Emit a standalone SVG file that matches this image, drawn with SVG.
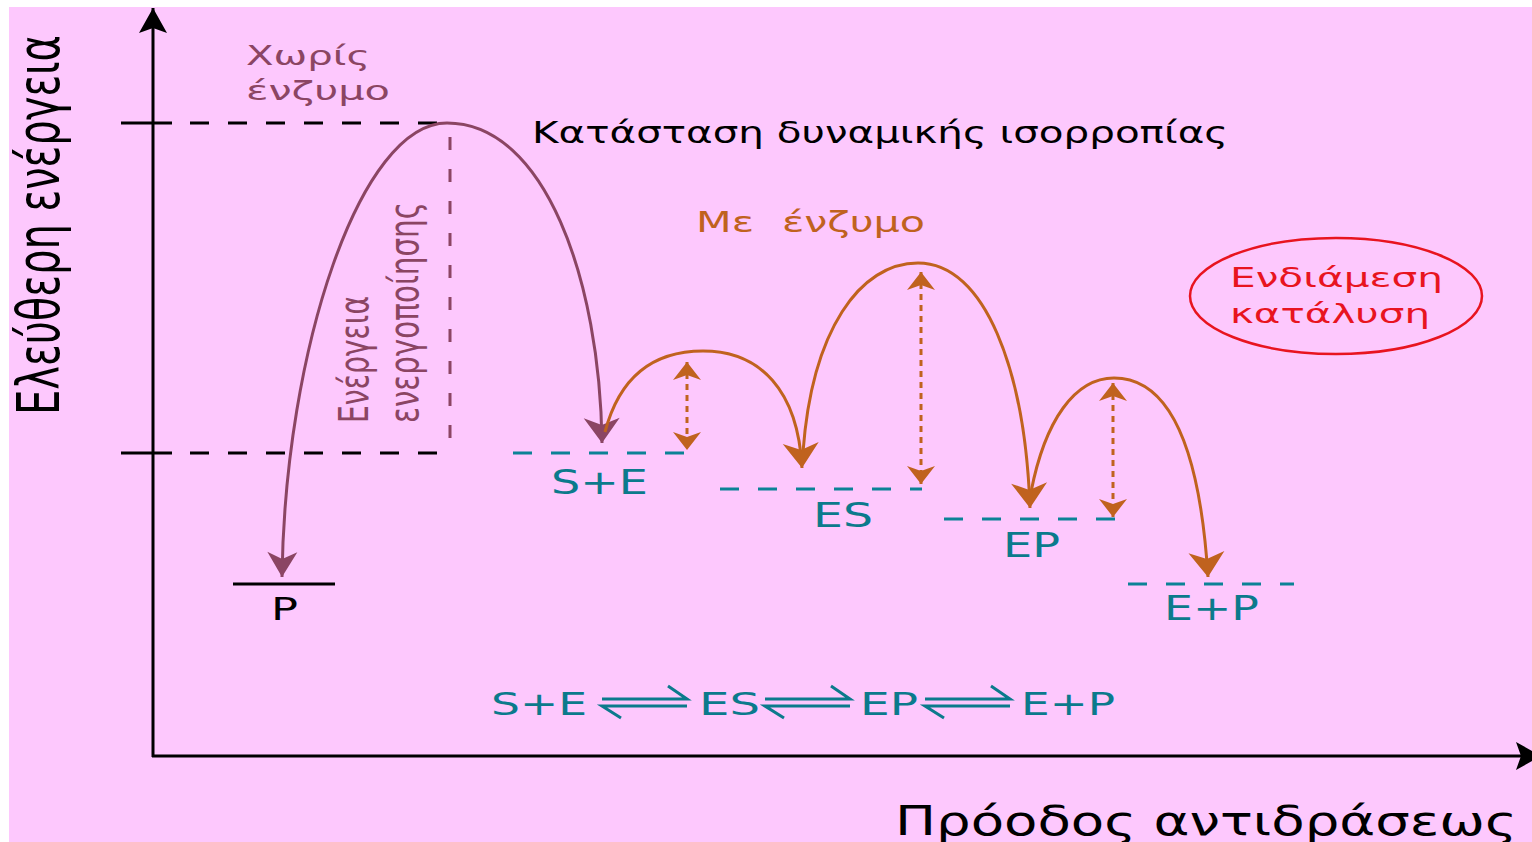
<svg xmlns="http://www.w3.org/2000/svg" width="1532" height="842" viewBox="0 0 1532 842">
<style>
text{font-family:"DejaVu Sans","Noto Sans",sans-serif}
.ax{stroke:#000;stroke-width:3;fill:none}
.dk{stroke:#000;stroke-width:3;stroke-dasharray:19 19;fill:none}
.mr{stroke:#8B4563;stroke-width:3;fill:none}
.mrd{stroke:#8B4563;stroke-width:3;stroke-dasharray:13 19;fill:none}
.or{stroke:#C0621E;stroke-width:3;fill:none}
.dot{stroke:#C0621E;stroke-width:3;stroke-dasharray:6 5;fill:none}
.tl{stroke:#0B8296;stroke-width:3;stroke-dasharray:19 19;fill:none}
.hp{stroke:#0B7A8C;stroke-width:3;fill:none}
.tt{fill:#0B7A8C}
.tm{fill:#8B4563}
</style>
<defs>
<marker id="hBlk" markerUnits="userSpaceOnUse" viewBox="-30 -20 35 40" markerWidth="35" markerHeight="40" refX="0" refY="0" orient="auto" overflow="visible"><path d="M0,0 L-25,-14 L-20,0 L-25,14 Z" fill="#000"/></marker>
<marker id="hMrA" markerUnits="userSpaceOnUse" viewBox="-30 -20 35 40" markerWidth="35" markerHeight="40" refX="0" refY="0" orient="auto-start-reverse" overflow="visible"><path d="M0,0 L-25,-18 L-18,0 L-25,18 Z" fill="#8B4563"/></marker>
<marker id="hMrB" markerUnits="userSpaceOnUse" viewBox="-30 -20 35 40" markerWidth="35" markerHeight="40" refX="0" refY="0" orient="auto" overflow="visible"><path d="M0,0 L-25,-15 L-18,0 L-25,15 Z" fill="#8B4563"/></marker>
<marker id="hOr" markerUnits="userSpaceOnUse" viewBox="-30 -20 35 40" markerWidth="35" markerHeight="40" refX="0" refY="0" orient="auto" overflow="visible"><path d="M0,0 L-25,-18 L-18,0 L-25,18 Z" fill="#C0621E"/></marker>
<marker id="hOs" markerUnits="userSpaceOnUse" viewBox="-30 -20 35 40" markerWidth="35" markerHeight="40" refX="0" refY="0" orient="auto-start-reverse" overflow="visible"><path d="M0,0 L-18,-14 L-13,0 L-18,14 Z" fill="#C0621E"/></marker>
</defs>

<rect x="9" y="7" width="1523" height="835" fill="#FDC8FD"/>

<g id="axes">
<line class="ax" x1="153" y1="757" x2="153" y2="8" marker-end="url(#hBlk)"/>
<line class="ax" x1="152" y1="756" x2="1541" y2="756" marker-end="url(#hBlk)"/>
<text transform="translate(59,415) scale(1.45,1) rotate(-90)" font-size="40" textLength="380" lengthAdjust="spacingAndGlyphs" fill="#000">Ελεύθερη ενέργεια</text>
<text x="895" y="835" font-size="41" textLength="622" lengthAdjust="spacingAndGlyphs" fill="#000">Πρόοδος αντιδράσεως</text>
</g>

<g id="reference-lines">
<line class="ax" x1="121" y1="123" x2="172" y2="123"/>
<line class="dk" x1="190" y1="123" x2="440" y2="123"/>
<line class="ax" x1="121" y1="453" x2="172" y2="453"/>
<line class="dk" x1="190" y1="453" x2="440" y2="453"/>
<line class="mrd" x1="450" y1="137" x2="450" y2="453"/>
</g>

<g id="label-no-enzyme">
<text class="tm" x="246" y="65" font-size="27" textLength="124" lengthAdjust="spacingAndGlyphs">Χωρίς</text>
<text class="tm" x="246" y="100" font-size="27" textLength="144" lengthAdjust="spacingAndGlyphs">ένζυμο</text>
</g>

<g id="label-activation">
<text class="tm" transform="translate(368,423) scale(1.45,1) rotate(-90)" font-size="28" textLength="127" lengthAdjust="spacingAndGlyphs">Ενέργεια</text>
<text class="tm" transform="translate(418,423) scale(1.45,1) rotate(-90)" font-size="28.5" textLength="221" lengthAdjust="spacingAndGlyphs">ενεργοποίησης</text>
</g>

<g id="label-equilibrium">
<text x="532" y="143" font-size="30" textLength="696" lengthAdjust="spacingAndGlyphs" fill="#000">Κατάσταση δυναμικής ισορροπίας</text>
</g>

<g id="label-with-enzyme">
<text x="696" y="232" font-size="29" textLength="58" lengthAdjust="spacingAndGlyphs" fill="#C0621E">Με</text>
<text x="782" y="232" font-size="29" textLength="143" lengthAdjust="spacingAndGlyphs" fill="#C0621E">ένζυμο</text>
</g>

<g id="intermediate-catalysis">
<ellipse cx="1336" cy="296" rx="146" ry="58" fill="none" stroke="#E8141F" stroke-width="2.5"/>
<text x="1230" y="287" font-size="27" textLength="213" lengthAdjust="spacingAndGlyphs" fill="#E8141F">Ενδιάμεση</text>
<text x="1230" y="323" font-size="27" textLength="200" lengthAdjust="spacingAndGlyphs" fill="#E8141F">κατάλυση</text>
</g>

<g id="level-P">
<line class="ax" x1="233" y1="584" x2="335" y2="584"/>
<text x="271" y="620" font-size="32" textLength="27" lengthAdjust="spacingAndGlyphs" fill="#000">P</text>
</g>

<g id="level-SE">
<line class="tl" x1="513" y1="453" x2="684" y2="453"/>
<text class="tt" x="551" y="494" font-size="33" textLength="97" lengthAdjust="spacingAndGlyphs">S+E</text>
</g>

<g id="level-ES">
<line class="tl" x1="720" y1="489" x2="922" y2="489"/>
<text class="tt" x="813" y="527" font-size="33" textLength="60" lengthAdjust="spacingAndGlyphs">ES</text>
</g>

<g id="level-EP">
<line class="tl" x1="944" y1="519" x2="1115" y2="519"/>
<text class="tt" x="1003" y="557" font-size="33" textLength="57" lengthAdjust="spacingAndGlyphs">EP</text>
</g>

<g id="level-EplusP">
<line class="tl" x1="1128" y1="584" x2="1294" y2="584"/>
<text class="tt" x="1164" y="620" font-size="33" textLength="95" lengthAdjust="spacingAndGlyphs">E+P</text>
</g>

<g id="equation">
<text class="tt" x="491" y="715" font-size="32" textLength="96" lengthAdjust="spacingAndGlyphs">S+E</text>
<text class="tt" x="699" y="715" font-size="32" textLength="61" lengthAdjust="spacingAndGlyphs">ES</text>
<text class="tt" x="860" y="715" font-size="32" textLength="58" lengthAdjust="spacingAndGlyphs">EP</text>
<text class="tt" x="1021" y="715" font-size="32" textLength="94" lengthAdjust="spacingAndGlyphs">E+P</text>
<path class="hp" d="M602,699 H687 L668,686 M687,706 H602 L621,718"/>
<path class="hp" d="M765,699 H850 L831,686 M850,706 H765 L784,718"/>
<path class="hp" d="M925,699 H1010 L991,686 M1010,706 H925 L944,718"/>
</g>

<g id="connectors">
<path class="mr" d="M602,443 C600,280 545,123 447,123 C360,123 285,350 282,577" marker-start="url(#hMrA)" marker-end="url(#hMrB)"/>
<path class="or" d="M605,432 C620,375 655,351 703,351 C760,351 798,390 802,468" marker-end="url(#hOr)"/>
<path class="or" d="M803,452 C812,330 860,263 918,263 C985,263 1025,370 1030,508" marker-end="url(#hOr)"/>
<path class="or" d="M1031,492 C1045,420 1075,378 1114,378 C1170,378 1200,450 1208,577" marker-end="url(#hOr)"/>
<line class="dot" x1="687" y1="362" x2="687" y2="450" marker-start="url(#hOs)" marker-end="url(#hOs)"/>
<line class="dot" x1="921" y1="272" x2="921" y2="484" marker-start="url(#hOs)" marker-end="url(#hOs)"/>
<line class="dot" x1="1113" y1="383" x2="1113" y2="517" marker-start="url(#hOs)" marker-end="url(#hOs)"/>
</g>
</svg>
